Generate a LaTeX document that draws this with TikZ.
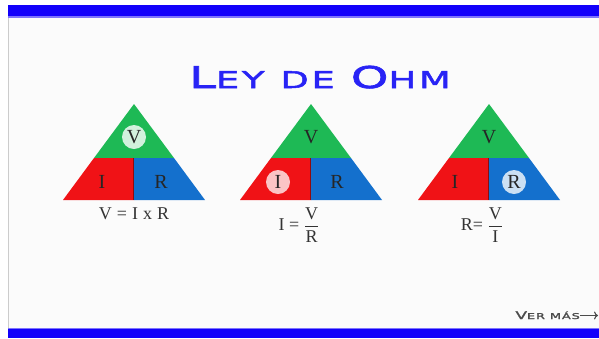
\documentclass[tikz,border=0pt]{standalone}
\usepackage{fontspec}
\setmainfont{Liberation Serif}
\newfontfamily\titlefont[FakeStretch=1.6,FakeBold=2.2,LetterSpace=12]{DejaVu Sans}
\usetikzlibrary{arrows.meta}

\definecolor{barblue}{RGB}{18,0,250}
\definecolor{titleblue}{RGB}{40,35,245}
\definecolor{vgreen}{RGB}{30,185,85}
\definecolor{ired}{RGB}{240,18,22}
\definecolor{rblue}{RGB}{20,112,205}
\definecolor{paper}{RGB}{251,251,251}

% small caps by hand: big first letter, smaller rest
\newcommand{\capsword}[3]{{\fontsize{#1}{#1}\selectfont #2}{\fontsize{23}{23}\selectfont #3}}

\tikzset{
  part label/.style={font=\fontsize{20}{20}\selectfont, text=black!85, inner sep=0pt},
  marked/.style={part label, circle, minimum size=24pt},
  formula/.style={font=\fontsize{18}{18}\selectfont, text=black!80, inner sep=0pt},
}

\begin{document}
\begin{tikzpicture}[x=1pt,y=-1pt]
  \useasboundingbox (0,0) rectangle (599,338);
  \fill[white] (0,0) rectangle (599,338);
  \fill[paper] (8,16) rectangle (599,329);
  \draw[black!20, line width=1.5pt] (8.5,16) -- (8.5,329);   % left edge
  \fill[barblue] (8,5) rectangle (599,16);     % top bar
  \fill[barblue!55] (8,16) rectangle (599,17.5);
  \fill[barblue] (8,329) rectangle (599,338);  % bottom bar
  \fill[barblue!55] (8,327.5) rectangle (599,329);

  \node[anchor=base, text=titleblue] (title) at (320,88)
    {\titlefont\capsword{30}{L}{EY}\hspace{16pt}\capsword{23}{}{DE}\hspace{16pt}\capsword{30}{O}{HM}};

  % triangle 1 : V = I x R
  \fill[vgreen] (134,104) -- (94,158) -- (174,158) -- cycle;
  \fill[ired] (94,158) -- (134,158) -- (134,200) -- (63,200) -- cycle;
  \fill[rblue] (134,158) -- (174,158) -- (205,200) -- (134,200) -- cycle;
  \draw[ired!60!black, line width=0.8pt] (133.5,158) -- (133.5,200);
  \node[marked, fill=vgreen!20!white] (v1) at (134,137) {V};
  \node[part label] (i1) at (102,182) {I};
  \node[part label] (r1) at (161,182) {R};
  \node[formula] (f1) at (134,214) {V\hspace{5pt}=\hspace{5pt}I\hspace{5pt}x\hspace{5pt}R};

  % triangle 2 : I = V / R
  \fill[vgreen] (311,104) -- (271,158) -- (351,158) -- cycle;
  \fill[ired] (271,158) -- (311,158) -- (311,200) -- (240,200) -- cycle;
  \fill[rblue] (311,158) -- (351,158) -- (382,200) -- (311,200) -- cycle;
  \draw[ired!60!black, line width=0.8pt] (310.5,158) -- (310.5,200);
  \node[part label] (v2) at (311,137) {V};
  \node[marked, fill=ired!25!white] (i2) at (278,182) {I};
  \node[part label] (r2) at (337,182) {R};
  \node[formula] (f2) at (299,225) {I = $\displaystyle\frac{\mbox{V}}{\mbox{R}}$};

  % triangle 3 : R = V / I
  \fill[vgreen] (489,104) -- (449,158) -- (529,158) -- cycle;
  \fill[ired] (449,158) -- (489,158) -- (489,200) -- (418,200) -- cycle;
  \fill[rblue] (489,158) -- (529,158) -- (560,200) -- (489,200) -- cycle;
  \draw[ired!60!black, line width=0.8pt] (488.5,158) -- (488.5,200);
  \node[part label] (v3) at (489,137) {V};
  \node[part label] (i3) at (455,182) {I};
  \node[marked, fill=rblue!22!white] (r3) at (514,182) {R};
  \node[formula] (f3) at (482,225) {R= $\displaystyle\frac{\mbox{V}}{\mbox{I}}$};

  % link
  \node[anchor=base east, inner sep=0pt, text=black!70] (more) at (580,319)
    {\titlefont\fontsize{10.5}{10.5}\selectfont V\fontsize{8}{8}\selectfont ER M\'AS};
  \coordinate (moreend) at (598,315.5);
  \draw[black!70, line width=1.2pt, -{To[length=4pt,width=8pt]}] (more.east |- moreend) -- (moreend);
\end{tikzpicture}
\end{document}
